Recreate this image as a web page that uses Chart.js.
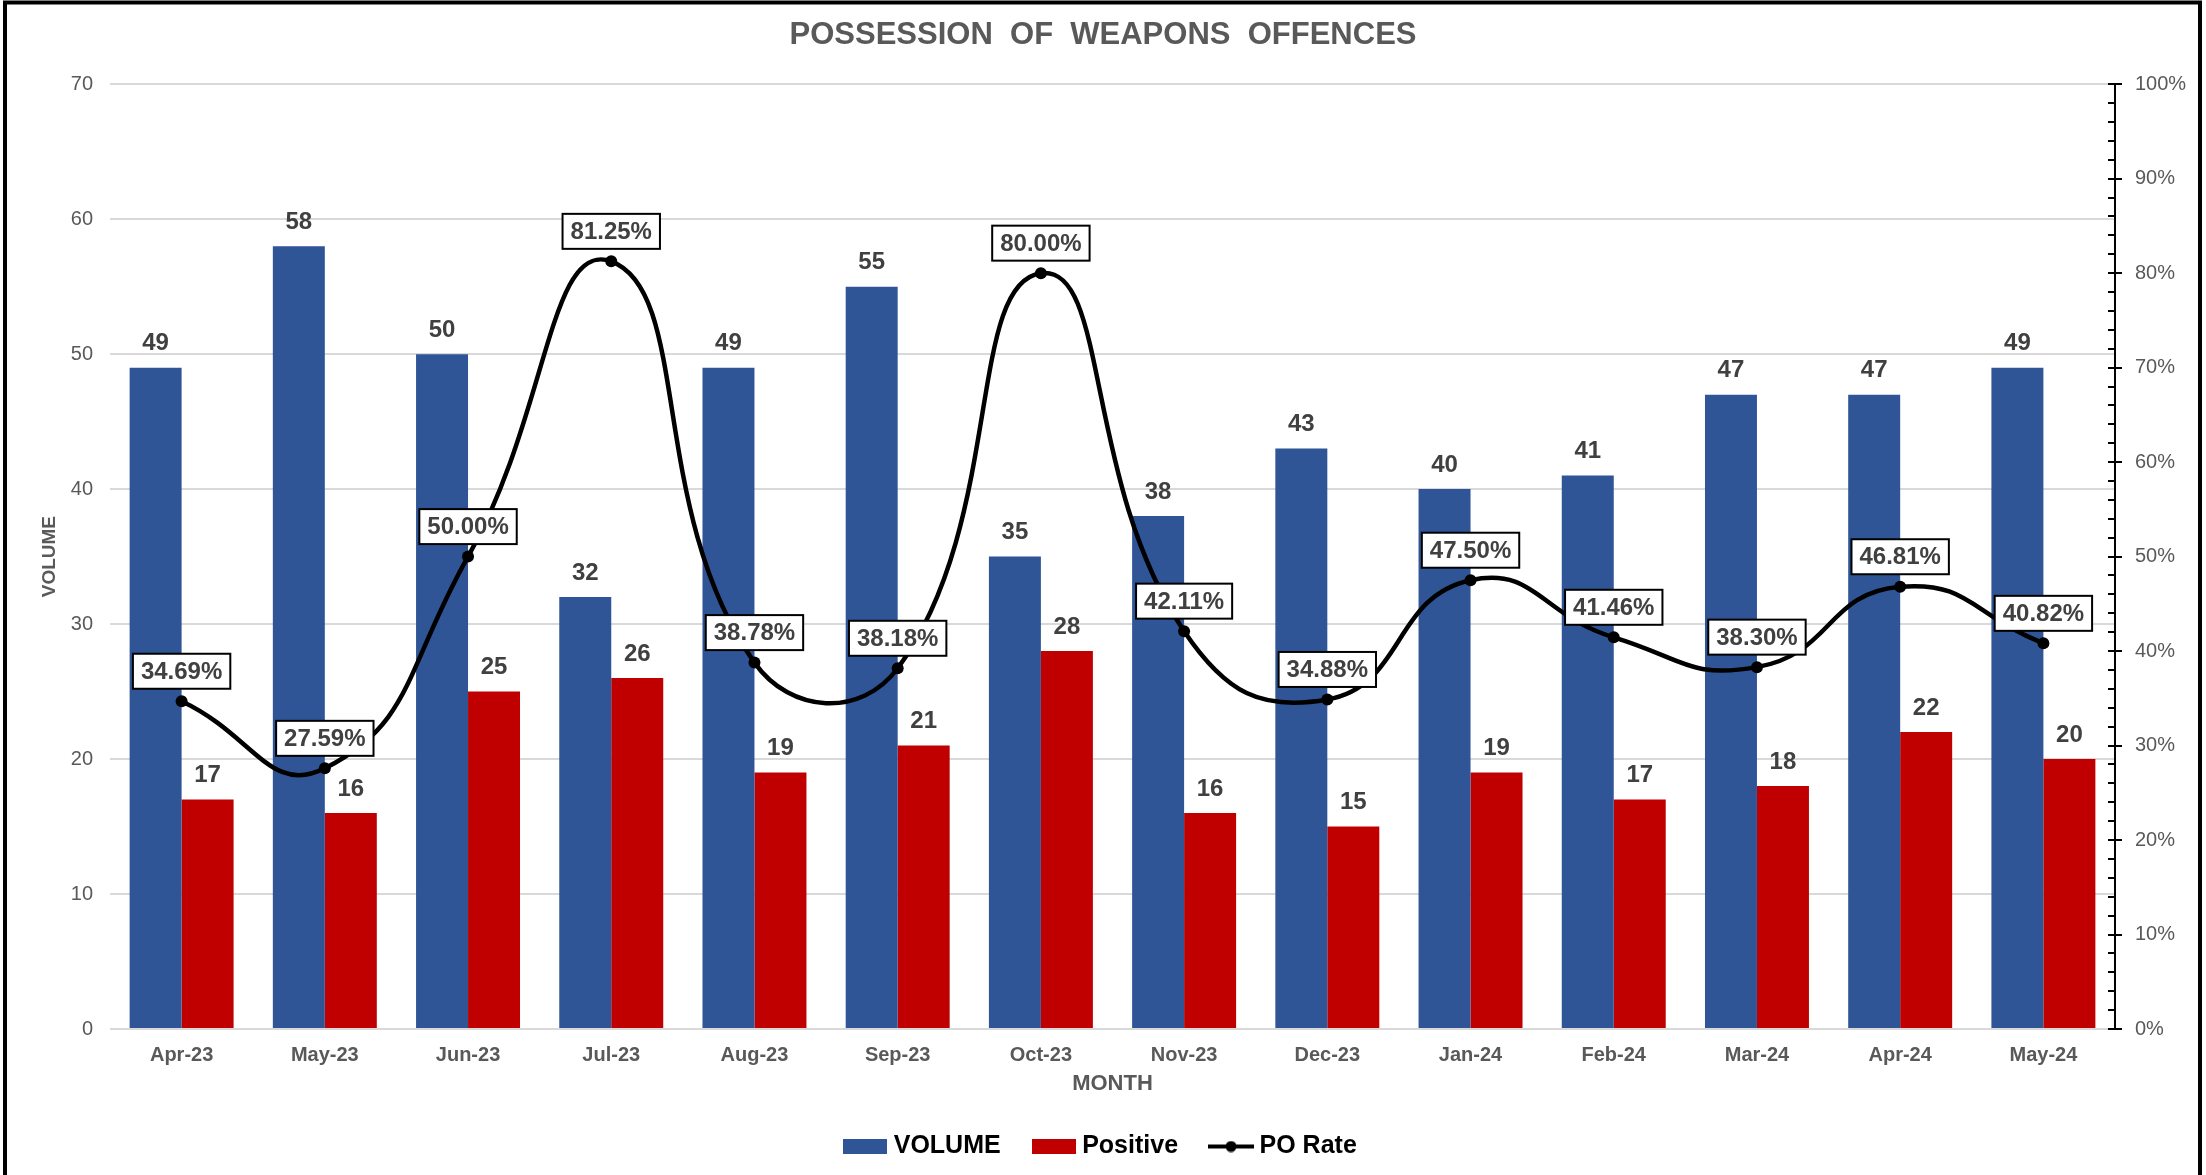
<!DOCTYPE html>
<html>
<head>
<meta charset="utf-8">
<title>Possession of Weapons Offences</title>
<script src="https://cdn.jsdelivr.net/npm/chart.js@4.4.1/dist/chart.umd.min.js"></script>
<style>
  html, body { margin: 0; padding: 0; background: #fff; }
</style>
</head>
<body>
<canvas id="weaponsChart" width="2206" height="1175"></canvas>
<script>
const months = ['Apr-23', 'May-23', 'Jun-23', 'Jul-23', 'Aug-23', 'Sep-23', 'Oct-23', 'Nov-23', 'Dec-23', 'Jan-24', 'Feb-24', 'Mar-24', 'Apr-24', 'May-24'];
const volume = [49, 58, 50, 32, 49, 55, 35, 38, 43, 40, 41, 47, 47, 49];
const positive = [17, 16, 25, 26, 19, 21, 28, 16, 15, 19, 17, 18, 22, 20];
const poRate = [34.69, 27.59, 50.00, 81.25, 38.78, 38.18, 80.00, 42.11, 34.88, 47.50, 41.46, 38.30, 46.81, 40.82];

const volumeColor = '#2F5597';
const positiveColor = '#C00000';
const textGrey = '#595959';
const labelGrey = '#404040';
const fontFamily = '"Liberation Sans", Arial, sans-serif';

Chart.defaults.font.family = fontFamily;

// petites icones pour la legende (44 px de large)
function makeBoxIcon(color) {
  const c = document.createElement('canvas');
  c.width = 44;
  c.height = 15;
  const g = c.getContext('2d');
  g.fillStyle = color;
  g.fillRect(0, 0, 44, 15);
  return c;
}

function makeLineIcon() {
  const c = document.createElement('canvas');
  c.width = 46;
  c.height = 12;
  const g = c.getContext('2d');
  g.strokeStyle = '#000';
  g.lineWidth = 4;
  g.beginPath();
  g.moveTo(0, 6);
  g.lineTo(46, 6);
  g.stroke();
  g.fillStyle = '#000';
  g.beginPath();
  g.arc(23, 6, 5.5, 0, Math.PI * 2);
  g.fill();
  return c;
}

const legendIcons = [makeBoxIcon(volumeColor), makeBoxIcon(positiveColor), makeLineIcon()];

// fond blanc + cadre noir
const framePlugin = {
  id: 'frame',
  beforeDraw(chart) {
    const ctx = chart.ctx;
    ctx.save();
    ctx.fillStyle = '#fff';
    ctx.fillRect(0, 0, chart.width, chart.height);
    ctx.strokeStyle = '#000';
    ctx.lineWidth = 4;
    ctx.strokeRect(5, 2.5, 2195, 1200);
    ctx.restore();
  }
};

// graduations de l'axe de droite (majeures + mineures)
const rightTicksPlugin = {
  id: 'rightTicks',
  afterDraw(chart) {
    const scale = chart.scales.y1;
    const ctx = chart.ctx;
    const x0 = scale.left;
    ctx.save();
    ctx.strokeStyle = '#000';
    ctx.lineWidth = 2;
    for (let v = 0; v <= 100; v += 2) {
      const py = Math.round(scale.getPixelForValue(v));
      const major = v % 10 === 0;
      ctx.beginPath();
      ctx.moveTo(x0 - 7, py);
      ctx.lineTo(major ? x0 + 7 : x0, py);
      ctx.stroke();
    }
    ctx.restore();
  }
};

// etiquettes de valeurs
const valueLabelsPlugin = {
  id: 'valueLabels',
  afterDraw(chart) {
    const ctx = chart.ctx;
    ctx.save();
    ctx.font = 'bold 24px ' + fontFamily;
    ctx.textAlign = 'center';
    ctx.textBaseline = 'middle';
    ctx.fillStyle = labelGrey;
    [0, 1].forEach(i => {
      chart.getDatasetMeta(i).data.forEach((bar, j) => {
        ctx.fillText(String(chart.data.datasets[i].data[j]), bar.x, bar.y - 24);
      });
    });
    chart.getDatasetMeta(2).data.forEach((pt, j) => {
      const text = poRate[j].toFixed(2) + '%';
      const w = ctx.measureText(text).width + 16;
      const h = 35;
      const cx = pt.x;
      const cy = pt.y - 30;
      ctx.fillStyle = '#fff';
      ctx.fillRect(cx - w / 2, cy - h / 2, w, h);
      ctx.lineWidth = 2;
      ctx.strokeStyle = '#000';
      ctx.strokeRect(cx - w / 2, cy - h / 2, w, h);
      ctx.fillStyle = labelGrey;
      ctx.fillText(text, cx, cy + 1);
    });
    ctx.restore();
  }
};

new Chart(document.getElementById('weaponsChart'), {
  data: {
    labels: months,
    datasets: [
      {
        type: 'bar',
        label: 'VOLUME',
        data: volume,
        backgroundColor: volumeColor,
        yAxisID: 'y',
        order: 1,
        categoryPercentage: 0.726,
        barPercentage: 1.0
      },
      {
        type: 'bar',
        label: 'Positive',
        data: positive,
        backgroundColor: positiveColor,
        yAxisID: 'y',
        order: 1,
        categoryPercentage: 0.726,
        barPercentage: 1.0
      },
      {
        type: 'line',
        label: 'PO Rate',
        data: poRate,
        yAxisID: 'y1',
        order: 0,
        borderColor: '#000',
        backgroundColor: '#000',
        borderWidth: 4.5,
        pointRadius: 6,
        pointBackgroundColor: '#000',
        pointBorderWidth: 0,
        tension: 0.5,
        fill: false
      }
    ]
  },
  options: {
    responsive: false,
    animation: false,
    layout: { padding: { left: 0, right: 0, top: 0, bottom: 6 } },
    plugins: {
      title: {
        display: true,
        text: 'POSSESSION  OF  WEAPONS  OFFENCES',
        color: textGrey,
        font: { size: 31, weight: 'bold' },
        padding: { top: 17, bottom: 30 }
      },
      legend: {
        position: 'bottom',
        labels: {
          usePointStyle: true,
          // icone de 44 px, decalee pour laisser ~6 px avant le texte
          pointStyleWidth: 32,
          padding: 37,
          color: textGrey,
          font: { size: 25, weight: 'bold' },
          generateLabels: (chart) => chart.data.datasets.map((ds, i) => ({
            text: ds.label,
            pointStyle: legendIcons[i],
            datasetIndex: i,
            hidden: false,
            fillStyle: 'transparent',
            strokeStyle: 'transparent',
            lineWidth: 0
          }))
        }
      },
      tooltip: { enabled: false }
    },
    scales: {
      x: {
        grid: { display: false, drawTicks: false },
        border: { display: false },
        ticks: {
          color: textGrey,
          font: { size: 20, weight: 'bold' },
          padding: 14,
          maxRotation: 0
        },
        title: {
          display: true,
          text: 'MONTH',
          color: textGrey,
          font: { size: 22, weight: 'bold' },
          padding: { top: 0, bottom: 0 }
        },
        afterFit: (scale) => { scale.height = 68; }
      },
      y: {
        position: 'left',
        min: 0,
        max: 70,
        grid: { color: '#D9D9D9', lineWidth: 2, drawTicks: false },
        border: { display: false },
        ticks: {
          stepSize: 10,
          color: textGrey,
          font: { size: 20 },
          padding: 17
        },
        title: {
          display: true,
          text: 'VOLUME',
          color: textGrey,
          font: { size: 19, weight: 'bold' },
          padding: { top: 38, bottom: 0 }
        },
        afterFit: (scale) => { scale.width = 110; }
      },
      y1: {
        position: 'right',
        min: 0,
        max: 100,
        grid: { display: false, drawTicks: false },
        border: { display: true, color: '#000', width: 2 },
        ticks: {
          stepSize: 10,
          color: textGrey,
          font: { size: 20 },
          padding: 20,
          callback: (v) => v + '%'
        },
        afterFit: (scale) => { scale.width = 91; }
      }
    }
  },
  plugins: [framePlugin, rightTicksPlugin, valueLabelsPlugin]
});
</script>
</body>
</html>
